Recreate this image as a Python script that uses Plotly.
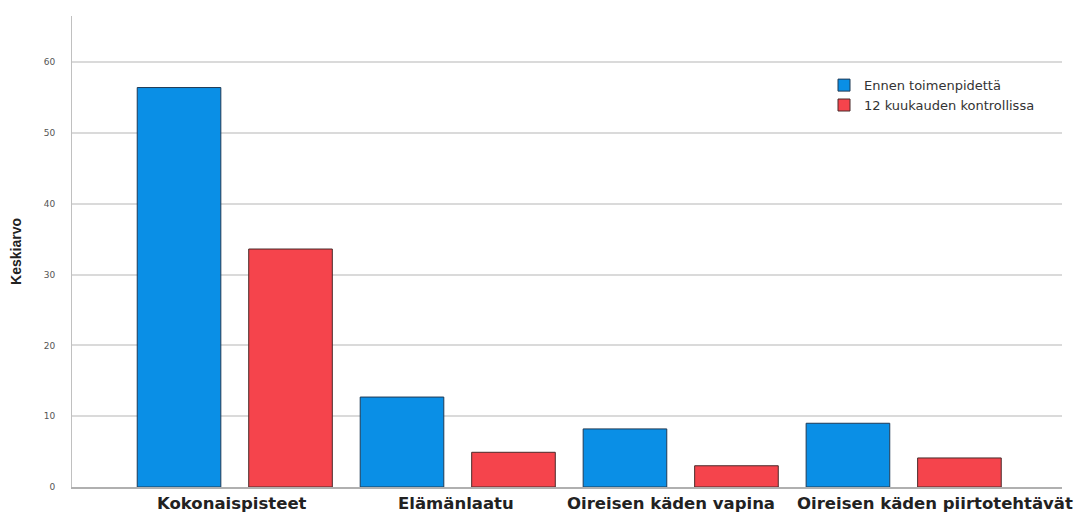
import plotly.graph_objects as go

# Mean scores before the intervention and at the 12-month follow-up
categories = ["Kokonaispisteet", "Elämänlaatu", "Oireisen käden vapina", "Oireisen käden piirtotehtävät"]
ennen = [56.4, 12.7, 8.2, 9.0]
kontrolli = [33.6, 4.9, 3.0, 4.1]
y_ticks = [0, 10, 20, 30, 40, 50, 60]

# horizontal nudges (px) so the long category labels do not collide
label_shift = [-3, -2, -10, 31]

fig = go.Figure()
fig.add_trace(go.Bar(
    x=categories, y=ennen, name="Ennen toimenpidettä",
    marker=dict(color="#0a8fe6", line=dict(color="#1f3a55", width=1)),
))
fig.add_trace(go.Bar(
    x=categories, y=kontrolli, name="12 kuukauden kontrollissa",
    marker=dict(color="#f5444c", line=dict(color="#4a2a2a", width=1)),
))

for cat, dx in zip(categories, label_shift):
    fig.add_annotation(
        x=cat, xref="x", y=0, yref="paper", yanchor="top",
        xshift=dx, yshift=-5, showarrow=False, text=cat,
        font=dict(size=16.5, color="#222", weight="bold",
                  family="DejaVu Sans, Liberation Sans, sans-serif"),
    )

fig.update_layout(
    width=1076, height=518,
    margin=dict(l=72, r=14, t=16, b=31),
    paper_bgcolor="white", plot_bgcolor="white",
    barmode="group", bargap=0.0, bargroupgap=0.25,
    font=dict(family="DejaVu Sans, Liberation Sans, sans-serif", color="#222"),
    showlegend=True,
    legend=dict(
        x=0.7596, y=0.885, xanchor="left", yanchor="top",
        font=dict(size=13, color="#333"),
        bgcolor="rgba(0,0,0,0)", tracegroupgap=0, itemwidth=30,
    ),
)
fig.update_xaxes(
    range=[-0.73, 3.71], automargin=False, showticklabels=False,
    showgrid=False, showline=True, linecolor="#b0b0b0", linewidth=2,
    ticks="",
)
fig.update_yaxes(
    range=[0, 66.5], tickvals=y_ticks, automargin=False,
    showgrid=True, gridcolor="#dadada", gridwidth=2,
    showline=True, linecolor="#c0c0c0", linewidth=1,
    zeroline=False, ticks="", ticklabelstandoff=14,
    tickfont=dict(size=9, color="#555"),
    title=dict(
        text="Keskiarvo",
        font=dict(size=14, color="#222", family="Liberation Sans, Arial, sans-serif", weight="bold"),
        standoff=18,
    ),
)

fig.write_html("out.html")
